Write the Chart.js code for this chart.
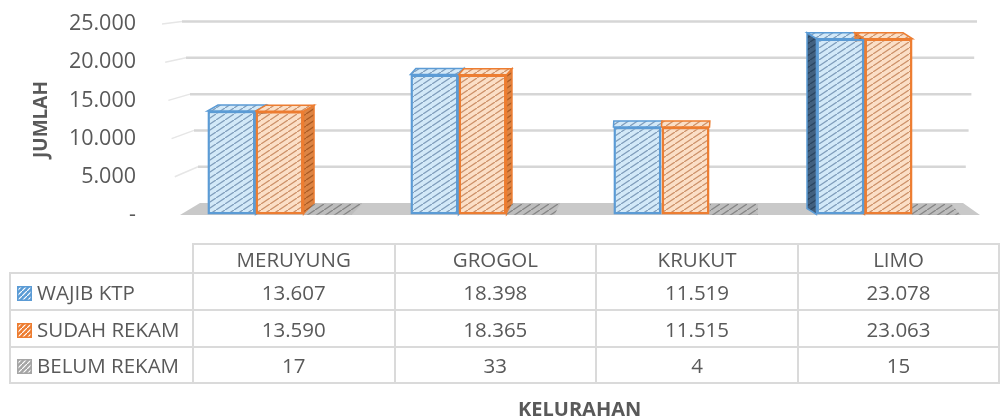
<!DOCTYPE html>
<html>
<head>
<meta charset="utf-8">
<script src="https://cdn.jsdelivr.net/npm/chart.js@4/dist/chart.umd.min.js"></script>
<style>
  body { margin: 0; background: #fff; width: 1000px; height: 420px; overflow: hidden; position: relative;
         font-family: 'Open Sans', sans-serif; color: #595959; }
  #c { position: absolute; left: 0; top: 0; }
  #tbl { position: absolute; left: 9px; top: 243px; border-collapse: collapse; table-layout: fixed; font-size: 20.5px; }
  #tbl td { border: 2px solid #dadada; text-align: center; padding: 0; white-space: nowrap; overflow: hidden; line-height: 24px; }
  #tbl td.blank { border: none; }
  #tbl td.name { text-align: left; padding-left: 6px; }
  #tbl td.name canvas { vertical-align: -1px; margin-right: 5px; }
  #xtitle { position: absolute; left: 518px; top: 396px; font-size: 20px; font-weight: bold; line-height: 26px; }
</style>
</head>
<body>
<canvas id="c" width="1000" height="420"></canvas>
<table id="tbl"></table>
<div id="xtitle">KELURAHAN</div>
<script>
// kelurahan and the three series
const kelurahan = ['MERUYUNG', 'GROGOL', 'KRUKUT', 'LIMO'];
const seriesNames = ['WAJIB KTP', 'SUDAH REKAM', 'BELUM REKAM'];
const wajibKtp = [13607, 18398, 11519, 23078];
const sudahRekam = [13590, 18365, 11515, 23063];
const belumRekam = [17, 33, 4, 15];
const yTicks = [0, 5000, 10000, 15000, 20000, 25000];

const fmt = v => String(v).replace(/\B(?=(\d{3})+(?!\d))/g, '.');

// hatch fills: front, side and legend chip colours per series
const looks = [
  {bg: '#d3e9f8', line: '#7f9dbb', border: '#5b9bd5', side: '#42607f', sideLine: '#2a4560'},
  {bg: '#fbdfc7', line: '#cc9068', border: '#ed7d31', side: '#dc8444', sideLine: '#aa5a22'},
  {bg: '#d4d4d4', line: '#8a8a8a', border: '#a5a5a5', side: '#bdbdbd', sideLine: '#858585'}
];

function hatch(bg, fg, w = 9, h = 6, lw = 1.3) {
  const c = document.createElement('canvas');
  c.width = w; c.height = h;
  const g = c.getContext('2d');
  g.fillStyle = bg;
  g.fillRect(0, 0, w, h);
  g.strokeStyle = fg;
  g.lineWidth = lw;
  [[0, 0], [-w, h], [w, -h]].forEach(([ox, oy]) => {
    g.beginPath();
    g.moveTo(ox, oy + h);
    g.lineTo(ox + w, oy);
    g.stroke();
  });
  return g.createPattern(c, 'repeat');
}

const fronts = looks.map(l => hatch(l.bg, l.line));
const sides = looks.map(l => hatch(l.side, l.sideLine));

// floor, walls and bar depth drawn behind the front faces
const FLOOR_DEPTH = 12;
const BACK_SCALE = 0.95;
const BAR_DY = 6;
const VANISH_X = 700;

const depth3d = {
  id: 'depth3d',
  beforeDatasetsDraw(chart) {
    const {ctx, chartArea: a, scales: {x, y}} = chart;
    const zero = y.getPixelForValue(0);
    const backZero = zero - FLOOR_DEPTH;
    const back = v => backZero - (zero - y.getPixelForValue(v)) * BACK_SCALE;
    ctx.save();

    // gridlines: side wall stub then back wall
    y.ticks.forEach(t => {
      if (t.value === 0) return;
      const f = t.value / y.max;
      const yf = y.getPixelForValue(t.value);
      const yb = back(t.value);
      const xf = a.left - 16 * f;
      const xb = a.left + 24 - 20 * f;
      const xr = a.right - 27 + 14 * f;
      ctx.lineWidth = 1.5;
      ctx.strokeStyle = '#e6e6e6';
      ctx.beginPath(); ctx.moveTo(xf, yf); ctx.lineTo(xb, yb); ctx.stroke();
      ctx.lineWidth = 2.5;
      ctx.strokeStyle = '#d6d6d6';
      ctx.beginPath(); ctx.moveTo(xb, yb); ctx.lineTo(xr, yb); ctx.stroke();
    });

    // floor
    ctx.fillStyle = '#c9c9c9';
    ctx.beginPath();
    ctx.moveTo(a.left + 2, zero);
    ctx.lineTo(a.right - 10, zero);
    ctx.lineTo(a.right - 27, backZero);
    ctx.lineTo(a.left + 22, backZero);
    ctx.closePath();
    ctx.fill();

    // bar tops and sides
    chart.data.datasets.forEach((ds, i) => {
      chart.getDatasetMeta(i).data.forEach((el, j) => {
        const p = el.getProps(['x', 'y', 'base', 'width'], true);
        const cx = x.getPixelForValue(j);
        const dx = (VANISH_X - cx) * (cx < VANISH_X ? 0.025 : 0.05);
        const dy = i === 2 ? FLOOR_DEPTH - 1 : BAR_DY;
        const l = p.x - p.width / 2, r = p.x + p.width / 2;
        const top = p.y, base = p.base;
        ctx.lineWidth = 1.5;
        ctx.strokeStyle = looks[i].border;
        // side face
        if (Math.abs(dx) > 1 && i !== 2) {
          const sx = dx > 0 ? r : l;
          ctx.fillStyle = sides[i];
          ctx.beginPath();
          ctx.moveTo(sx, top);
          ctx.lineTo(sx + dx, top - dy);
          ctx.lineTo(sx + dx, base - dy);
          ctx.lineTo(sx, base);
          ctx.closePath();
          ctx.fill();
          ctx.stroke();
        }
        // top face
        ctx.fillStyle = i === 2 ? sides[i] : fronts[i];
        ctx.beginPath();
        ctx.moveTo(l, top);
        ctx.lineTo(r, top);
        ctx.lineTo(r + dx, top - dy);
        ctx.lineTo(l + dx, top - dy);
        ctx.closePath();
        ctx.fill();
        if (i !== 2) ctx.stroke();
      });
    });
    ctx.restore();
  }
};

const seriesData = [wajibKtp, sudahRekam, belumRekam];

new Chart(document.getElementById('c'), {
  type: 'bar',
  data: {
    labels: kelurahan,
    datasets: seriesData.map((d, i) => ({
      label: seriesNames[i],
      data: d,
      backgroundColor: fronts[i],
      borderColor: looks[i].border,
      borderWidth: 2.5,
      borderSkipped: false,
      categoryPercentage: 0.71,
      barPercentage: 1
    }))
  },
  options: {
    responsive: false,
    animation: false,
    layout: {padding: {top: 24, bottom: 205, right: 10, left: 0}},
    plugins: {legend: {display: false}, tooltip: {enabled: false}},
    scales: {
      x: {display: false},
      y: {
        min: 0,
        max: 25000,
        afterBuildTicks: s => { s.ticks = yTicks.map(v => ({value: v})); },
        afterFit: s => { s.width = 178; },
        ticks: {
          padding: 0,
          color: '#595959',
          font: {family: "'Open Sans', sans-serif", size: 21.5},
          callback: v => v === 0 ? '-' : fmt(v)
        },
        // invisible tick marks keep the labels clear of the plot
        grid: {display: true, drawOnChartArea: false, drawTicks: true, tickLength: 42, tickColor: 'rgba(0,0,0,0)'},
        border: {display: false},
        title: {
          display: true,
          text: 'JUMLAH',
          color: '#595959',
          font: {family: "'Open Sans', sans-serif", size: 19, weight: 'bold'},
          padding: {top: 30, bottom: 0}
        }
      }
    }
  },
  plugins: [depth3d]
});

// data table under the plot
const tbl = document.getElementById('tbl');
const colW = [183, 204, 204, 205, 204];
const cg = document.createElement('colgroup');
colW.forEach(w => { const c = document.createElement('col'); c.style.width = w + 'px'; cg.appendChild(c); });
tbl.appendChild(cg);

const head = tbl.insertRow();
head.style.height = '29px';
head.insertCell().className = 'blank';
kelurahan.forEach(k => { head.insertCell().textContent = k; });

seriesData.forEach((d, i) => {
  const row = tbl.insertRow();
  row.style.height = i === 2 ? '36px' : '37px';
  const name = row.insertCell();
  name.className = 'name';
  const chip = document.createElement('canvas');
  chip.width = 15; chip.height = 15;
  const g = chip.getContext('2d');
  g.fillStyle = hatch(looks[i].border, '#ffffff', 5, 5, 1.2);
  g.fillRect(0, 0, 15, 15);
  g.strokeStyle = looks[i].border;
  g.lineWidth = 1.5;
  g.strokeRect(0.75, 0.75, 13.5, 13.5);
  name.appendChild(chip);
  name.appendChild(document.createTextNode(seriesNames[i]));
  d.forEach(v => { row.insertCell().textContent = fmt(v); });
});
</script>
</body>
</html>
